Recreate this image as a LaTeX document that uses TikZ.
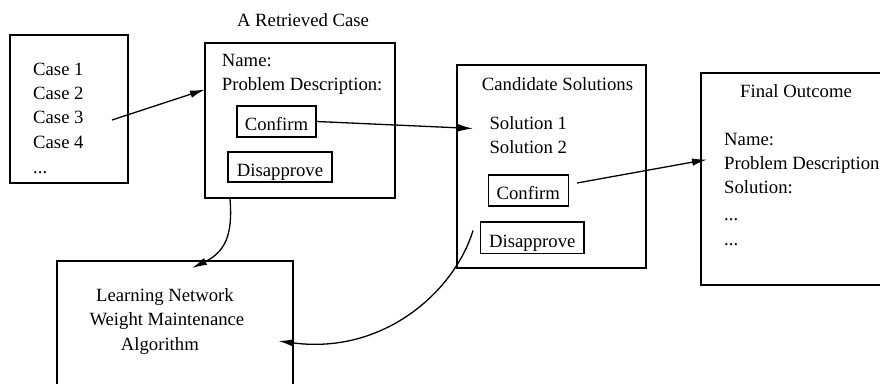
\documentclass[tikz,border=0pt]{standalone}
\usepackage{fontspec}
\setmainfont{Liberation Serif}
\usetikzlibrary{arrows.meta}
\begin{document}
\begin{tikzpicture}[x=1pt,y=-1pt,
  txt/.style={font=\fontsize{18.7}{24.5}\selectfont, inner sep=0pt},
  frame/.style={draw, line width=1.6pt, inner sep=0pt},
  btn/.style={frame, font=\fontsize{18.7}{24.5}\selectfont, text height=18pt, text depth=0pt},
  arr/.style={line width=1.3pt, -{Latex[length=15pt,width=7.5pt]}}]
\useasboundingbox (0,0) rectangle (880,383);
\clip (0,0) rectangle (880,383);

% frames
\node[frame, minimum width=118pt, minimum height=148pt] (cases) at (69,109) {};
\node[frame, minimum width=190pt, minimum height=155pt] (ret) at (300,120.5) {};
\node[frame, minimum width=189pt, minimum height=203pt] (cand) at (551.5,166.5) {};
\node[frame, minimum width=209pt, minimum height=212pt] (final) at (805.5,179) {};
\node[frame, minimum width=236pt, minimum height=159pt] (learn) at (174.7,340.5) {};

% buttons
\node[btn, minimum width=79pt, minimum height=31pt] (conf1) at (276.5,121.5) {Confirm};
\node[btn, text height=20pt, minimum width=103.5pt, minimum height=30pt] (dis1) at (280,166.7) {Disapprove};
\node[btn, minimum width=80pt, minimum height=31pt] (conf2) at (528.3,190.5) {Confirm};
\node[btn, text height=20pt, minimum width=103.3pt, minimum height=31.6pt] (dis2) at (532.3,237.5) {Disapprove};

% case list
\node[txt, anchor=base west] (c1) at (33,75) {Case 1};
\node[txt, anchor=base west] (c2) at (33,99.5) {Case 2};
\node[txt, anchor=base west] (c3) at (33,123.5) {Case 3};
\node[txt, anchor=base west] (c4) at (33,148) {Case 4};
\node[txt, anchor=base west] (c5) at (33,173) {...};

% retrieved case
\node[txt, anchor=base] (rtitle) at (303,26.7) {A Retrieved Case};
\node[txt, anchor=base west] (rname) at (221.7,66.7) {Name:};
\node[txt, anchor=base west] (rdesc) at (221.7,90) {Problem Description:};

% candidate solutions
\node[txt, anchor=base] (ctitle) at (557.5,90) {Candidate Solutions};
\node[txt, anchor=base west] (sol1) at (489.3,129.3) {Solution 1};
\node[txt, anchor=base west] (sol2) at (489.3,153.3) {Solution 2};

% final outcome
\node[txt, anchor=base] (ftitle) at (796,97) {Final Outcome};
\node[txt, anchor=base west] (fname) at (724,145) {Name:};
\node[txt, anchor=base west] (fdesc) at (724,169) {Problem Description};
\node[txt, anchor=base west] (fsol) at (724,193) {Solution:};
\node[txt, anchor=base west] (fd1) at (724,220) {...};
\node[txt, anchor=base west] (fd2) at (724,245) {...};

% learning algorithm
\node[txt, anchor=base west] (l1) at (96,301.5) {Learning Network};
\node[txt, anchor=base west] (l2) at (89.3,325) {Weight Maintenance};
\node[txt, anchor=base west] (l3) at (120.7,350) {Algorithm};

% connector ends
\coordinate (a1s) at (112,120);
\coordinate (a1e) at (205,89.5);
\coordinate (a2e) at (473,128.5);
\coordinate (a3s) at (577,183);
\coordinate (a3e) at (707,159.5);
\coordinate (k1s) at (230,199);
\coordinate (k1e) at (192,268);
\coordinate (k2s) at (473,230.5);
\coordinate (k2e) at (278.5,341);

\draw[arr] (a1s) -- (a1e);
\draw[arr] (conf1.east) -- (a2e);
\draw[arr] (a3s) -- (a3e);
\draw[arr] (k1s) .. controls (233,235) and (225,252) .. (k1e);
\draw[arr] (k2s) .. controls (455,290) and (385,355) .. (k2e);
\end{tikzpicture}
\end{document}
